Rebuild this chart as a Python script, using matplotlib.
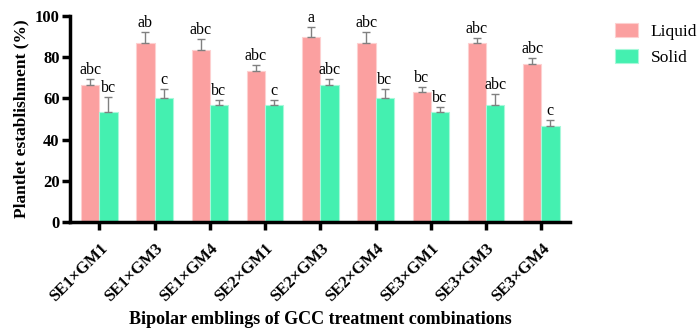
import matplotlib
matplotlib.use("Agg")
import matplotlib.pyplot as plt
import numpy as np

categories = ["SE1×GM1", "SE1×GM3", "SE1×GM4", "SE2×GM1", "SE2×GM3",
              "SE2×GM4", "SE3×GM1", "SE3×GM3", "SE3×GM4"]
liquid = [66.7, 86.7, 83.3, 73.3, 90.0, 86.7, 63.3, 86.7, 76.7]
liquid_err = [2.72, 5.44, 5.44, 2.72, 4.71, 5.44, 2.4, 2.72, 2.72]
solid = [53.3, 60.0, 56.7, 56.7, 66.7, 60.0, 53.3, 56.7, 46.7]
solid_err = [7.2, 4.71, 2.72, 2.72, 2.72, 4.71, 2.4, 5.44, 2.72]
liquid_letters = ["abc", "ab", "abc", "abc", "a", "abc", "bc", "abc", "abc"]
solid_letters = ["bc", "c", "bc", "c", "abc", "bc", "bc", "abc", "c"]

plt.rcParams['font.family'] = ['Liberation Serif', 'DejaVu Serif']

fig = plt.figure(figsize=(6.97, 3.29), dpi=100)
ax = fig.add_axes([70/697, 1-222/329, (570-70)/697, (222-16)/329])

x = np.arange(len(categories))
w = 0.33
c_liq = "#FBA0A0"
c_sol = "#44F0B0"
ax.bar(x - w/2, liquid, w, color=c_liq, edgecolor="#FDD0D0", linewidth=0.8, label="Liquid", zorder=2)
ax.bar(x + w/2, solid, w, color=c_sol, edgecolor="#A8F8DA", linewidth=0.8, label="Solid", zorder=2)
ax.errorbar(x - w/2, liquid, yerr=[np.zeros(len(x)), liquid_err], fmt="none",
            ecolor="#808080", elinewidth=1.0, capsize=3, capthick=1.0, zorder=3)
ax.errorbar(x + w/2, solid, yerr=[np.zeros(len(x)), solid_err], fmt="none",
            ecolor="#808080", elinewidth=1.0, capsize=3, capthick=1.0, zorder=3)

for i in range(len(x)):
    ax.text(x[i] - w/2, liquid[i] + liquid_err[i] + 0.5, liquid_letters[i],
            ha="center", va="bottom", fontsize=11.5)
    ax.text(x[i] + w/2, solid[i] + solid_err[i] + 0.5, solid_letters[i],
            ha="center", va="bottom", fontsize=11.5)

ax.set_xlim(-0.53, 8.52)
ax.set_ylim(0, 100)
ax.set_yticks([0, 20, 40, 60, 80, 100])
ax.set_xticks(x)
ax.set_xticklabels(categories, rotation=45, ha="right", rotation_mode="anchor",
                   fontsize=12, fontweight="bold")
for lab in ax.get_yticklabels():
    lab.set_fontweight("bold")
    lab.set_fontsize(12)
ax.tick_params(axis="both", width=2.5, length=5.5, direction="out")
ax.tick_params(axis="y", pad=2)
ax.tick_params(axis="x", pad=8)
for s in ["top", "right"]:
    ax.spines[s].set_visible(False)
for s in ["left", "bottom"]:
    ax.spines[s].set_linewidth(2.5)

ax.set_ylabel("Plantlet establishment (%)", fontsize=12.5, fontweight="bold", labelpad=4)
fig.text(320 / 697, 1 - 320/329, "Bipolar emblings of GCC treatment combinations",
         ha="center", va="center", fontsize=13, fontweight="bold")

fig.legend(loc="upper left", bbox_to_anchor=(615/697, 1 - 23/329), frameon=False, fontsize=12.5,
           handlelength=1.35, handleheight=0.9, labelspacing=0.5, handletextpad=0.7,
           borderpad=0, borderaxespad=0)

fig.savefig("out.png", dpi=100)
